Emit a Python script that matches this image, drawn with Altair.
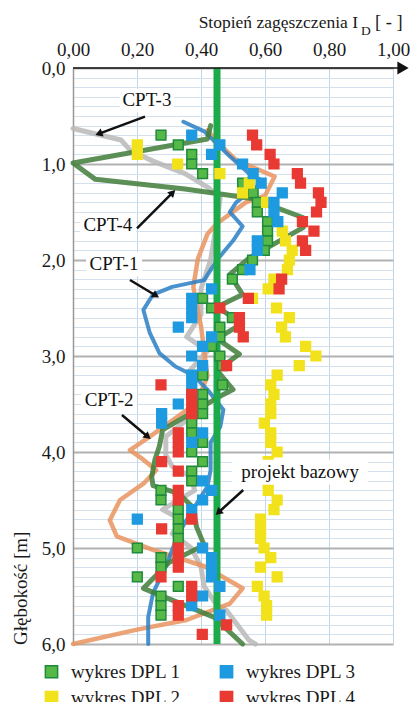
import math
import altair as alt
import pandas as pd

FONT = "Liberation Serif"
W, H = 320, 576
PX_PER_M = H / 6.0

# ---------------- data ----------------
x_ticks = [0.0, 0.2, 0.4, 0.6, 0.8, 1.0]
y_ticks = [round(i * 0.1, 1) for i in range(61)]
base_value = [0.45]

dpl1_depth = [0.7, 0.8, 0.9, 1.0, 1.1, 1.2, 1.3, 1.4, 1.5, 1.6, 1.7, 1.8, 1.9, 2.0, 2.1, 2.2,
              2.4, 2.5, 2.6, 2.7, 2.8, 2.9, 3.0, 3.1, 3.2, 3.3, 3.4, 3.5, 3.6, 3.7, 3.8, 3.9,
              4.0, 4.1, 4.2, 4.3, 4.4, 4.5, 4.6, 4.7, 4.8, 4.9, 5.0, 5.1, 5.2, 5.3, 5.4, 5.5, 5.6, 5.7]
dpl1_value = [0.275, 0.329, 0.371, 0.371, 0.405, 0.53, 0.563, 0.576, 0.576, 0.608, 0.608, 0.608, 0.598, 0.561, 0.53, 0.498,
              0.405, 0.433, 0.498, 0.459, 0.459, 0.433, 0.459, 0.467, 0.405, 0.467, 0.405, 0.405, 0.405, 0.371, 0.371, 0.405,
              0.371, 0.405, 0.371, 0.371, 0.275, 0.275, 0.329, 0.329, 0.329, 0.329, 0.201, 0.275, 0.275, 0.201, 0.329, 0.275, 0.275, 0.275]

dpl2_depth = [0.8, 0.9, 1.0, 1.1, 1.2, 1.3, 1.4, 1.7, 1.8, 1.9, 2.0, 2.1, 2.2, 2.3, 2.4, 2.5, 2.6, 2.7, 2.8, 2.9,
              3.0, 3.1, 3.2, 3.3, 3.4, 3.5, 3.6, 3.7, 3.8, 3.9, 4.0, 4.1, 4.2, 4.3, 4.4, 4.5, 4.6, 4.7, 4.8, 4.9,
              5.0, 5.1, 5.2, 5.3, 5.4, 5.5, 5.6, 5.7]
dpl2_value = [0.201, 0.201, 0.327, 0.459, 0.551, 0.53, 0.605, 0.654, 0.664, 0.685, 0.676, 0.67, 0.628, 0.61, 0.561, 0.636, 0.676, 0.652, 0.664, 0.727,
              0.759, 0.707, 0.638, 0.618, 0.628, 0.618, 0.618, 0.598, 0.618, 0.618, 0.638, 0.61, 0.62, 0.61, 0.61, 0.638, 0.628, 0.586, 0.586, 0.586,
              0.597, 0.618, 0.586, 0.638, 0.576, 0.597, 0.605, 0.605]

dpl3_depth = [0.7, 0.8, 0.9, 1.0, 1.1, 1.2, 1.3, 1.4, 1.5, 1.6, 1.8, 1.9, 2.1,
              2.3, 2.4, 2.5, 2.6, 2.7, 2.8, 2.9, 3.0, 3.1, 3.2, 3.3, 3.4, 3.5, 3.6, 3.7, 3.8, 3.9,
              4.3, 4.4, 4.5, 4.6, 4.7, 5.0, 5.1, 5.2, 5.3, 5.4, 5.5, 5.6, 5.7]
dpl3_value = [0.371, 0.459, 0.433, 0.53, 0.563, 0.588, 0.654, 0.628, 0.628, 0.64, 0.576, 0.576, 0.553,
              0.433, 0.371, 0.371, 0.371, 0.329, 0.433, 0.405, 0.371, 0.405, 0.371, 0.371, 0.371, 0.329, 0.277, 0.277, 0.405, 0.371,
              0.405, 0.433, 0.405, 0.371, 0.201, 0.405, 0.433, 0.433, 0.433, 0.459, 0.405, 0.371, 0.459]

dpl4_depth = [0.7, 0.8, 0.9, 1.0, 1.1, 1.2, 1.3, 1.4, 1.5, 1.6, 1.7, 1.8, 1.9,
              2.2, 2.3, 2.4, 2.5, 2.6, 2.7, 2.8, 3.1, 3.3, 3.4, 3.5, 3.6,
              3.8, 3.9, 4.0, 4.1, 4.2, 4.4, 4.5, 4.7, 4.8,
              5.0, 5.1, 5.2, 5.3, 5.4, 5.5, 5.6, 5.7, 5.8, 5.9]
dpl4_value = [0.561, 0.574, 0.616, 0.628, 0.701, 0.711, 0.767, 0.775, 0.761, 0.717, 0.753, 0.717, 0.727,
              0.652, 0.644, 0.548, 0.459, 0.52, 0.52, 0.532, 0.48, 0.275, 0.371, 0.371, 0.371,
              0.329, 0.329, 0.329, 0.277, 0.329, 0.329, 0.329, 0.371, 0.277,
              0.329, 0.329, 0.329, 0.275, 0.371, 0.371, 0.329, 0.329, 0.48, 0.404]

cpt1_value = [0.345, 0.41, 0.49, 0.55, 0.595, 0.51, 0.49, 0.53, 0.50, 0.47, 0.45, 0.41, 0.31, 0.25, 0.22, 0.24,
              0.27, 0.32, 0.375, 0.42, 0.47, 0.46, 0.43, 0.43, 0.42, 0.38, 0.33, 0.29, 0.25, 0.235, 0.235]
cpt1_depth = [0.56, 0.66, 0.92, 1.10, 1.18, 1.40, 1.50, 1.65, 1.80, 1.92, 2.0, 2.21, 2.28, 2.36, 2.52, 2.76,
              2.97, 3.11, 3.20, 3.35, 3.56, 3.74, 3.90, 4.19, 4.36, 4.57, 4.85, 5.19, 5.47, 5.72, 6.0]

cpt2_value = [0.42, 0.46, 0.51, 0.63, 0.60, 0.54, 0.45, 0.42, 0.39, 0.376, 0.40, 0.42, 0.386, 0.24, 0.178, 0.22,
              0.26, 0.22, 0.147, 0.115, 0.137, 0.25, 0.41, 0.53, 0.49, 0.355, 0.20, 0.0]
cpt2_depth = [0.65, 0.80, 0.96, 1.13, 1.33, 1.40, 1.62, 1.73, 1.99, 2.28, 2.69, 3.21, 3.49, 3.84, 3.98, 4.08,
              4.19, 4.33, 4.50, 4.71, 4.88, 5.02, 5.19, 5.42, 5.58, 5.75, 5.85, 6.0]

cpt3_value = [0.0, 0.15, 0.18, 0.25, 0.35, 0.42, 0.46, 0.45, 0.43, 0.40, 0.40, 0.355, 0.42, 0.36, 0.38, 0.40,
              0.29, 0.29, 0.31, 0.37, 0.38, 0.28, 0.34, 0.31, 0.37, 0.40, 0.41, 0.45, 0.48, 0.55, 0.57]
cpt3_depth = [0.63, 0.75, 0.86, 0.97, 1.10, 1.24, 1.35, 1.60, 2.0, 2.3, 2.57, 2.80, 2.95, 3.17, 3.35, 3.55,
              3.84, 4.03, 4.15, 4.26, 4.40, 4.60, 4.71, 4.85, 5.0, 5.2, 5.4, 5.6, 5.65, 5.96, 6.0]

cpt4_value = [0.43, 0.42, 0.0, 0.07, 0.35, 0.56, 0.72, 0.72, 0.55, 0.49, 0.53, 0.45, 0.53, 0.45, 0.52, 0.45,
              0.50, 0.47, 0.28, 0.27, 0.256, 0.246, 0.25, 0.33, 0.376, 0.386, 0.41, 0.30, 0.22, 0.44, 0.53]
cpt4_depth = [0.60, 0.74, 0.99, 1.16, 1.26, 1.36, 1.56, 1.66, 1.98, 2.15, 2.36, 2.49, 2.66, 2.82, 2.98, 3.15,
              3.35, 3.40, 3.77, 3.94, 4.08, 4.26, 4.35, 4.43, 4.58, 4.78, 4.97, 5.15, 5.42, 5.72, 6.0]

dpl_names = ["wykres DPL 1", "wykres DPL 2", "wykres DPL 3", "wykres DPL 4"]
dpl_fill = ["#56b947", "#f2e21c", "#1e9ae0", "#e83a33"]
dpl_stroke = ["#1f8a3c", "#f2e21c", "#1e9ae0", "#e83a33"]

ann_label = ["CPT-3", "CPT-4", "CPT-1", "CPT-2", "projekt bazowy"]
ann_tx = [0.231, 0.109, 0.128, 0.113, 0.71]
ann_ty = [0.333, 1.635, 2.04, 3.458, 4.21]
ann_bx1 = [0.147, 0.022, 0.041, 0.025, 0.497]
ann_bx2 = [0.316, 0.197, 0.216, 0.200, 0.922]
ann_by1 = [0.22, 1.51, 1.92, 3.33, 4.08]
ann_by2 = [0.46, 1.76, 2.17, 3.58, 4.34]
arr_x1 = [0.225, 0.200, 0.178, 0.153, 0.532]
arr_y1 = [0.507, 1.670, 2.208, 3.615, 4.396]
arr_x2 = [0.084, 0.309, 0.256, 0.231, 0.457]
arr_y2 = [0.681, 1.306, 2.365, 3.833, 4.622]

title_parts = ["Stopień zagęszczenia I", "D", "[ - ]"]
y_title = ["Głębokość [m]"]

# ---------------- tables ----------------
pts = pd.concat([
    pd.DataFrame({"v": dpl1_value, "d": dpl1_depth, "series": "wykres DPL 1"}),
    pd.DataFrame({"v": dpl2_value, "d": dpl2_depth, "series": "wykres DPL 2"}),
    pd.DataFrame({"v": dpl3_value, "d": dpl3_depth, "series": "wykres DPL 3"}),
    pd.DataFrame({"v": dpl4_value, "d": dpl4_depth, "series": "wykres DPL 4"}),
], ignore_index=True)

ann = pd.DataFrame({"label": ann_label, "tx": ann_tx, "ty": ann_ty,
                    "bx1": ann_bx1, "bx2": ann_bx2, "by1": ann_by1, "by2": ann_by2,
                    "ax1": arr_x1, "ay1": arr_y1, "ax2": arr_x2, "ay2": arr_y2})
# arrowhead rotation (clockwise from "up", screen y grows with depth)
ann["ang"] = [
    (math.degrees(math.atan2((x2 - x1) * W, -(y2 - y1) * PX_PER_M)) + 360) % 360
    for x1, y1, x2, y2 in zip(arr_x1, arr_y1, arr_x2, arr_y2)
]

xs = alt.Scale(domain=[0, 1], nice=False, zero=False)
ys = alt.Scale(domain=[0, 6], reverse=True, nice=False, zero=False)

is_int = "abs(datum.value - round(datum.value)) < 0.001"
xaxis = alt.Axis(orient="top", values=x_ticks, title=None,
                 labelExpr="replace(format(datum.value, '.2f'), '.', ',')",
                 labelFont=FONT, labelFontSize=19, labelColor="#1a1a1a", labelPadding=9,
                 grid=True, gridColor="#c4d4e4", gridWidth=1, domain=False, ticks=False,
                 labelOverlap=False, labelFlush=False)
yaxis = alt.Axis(values=y_ticks, title=None,
                 labelExpr=f"{is_int} ? replace(format(datum.value, '.1f'), '.', ',') : ''",
                 labelFont=FONT, labelFontSize=19, labelColor="#1a1a1a", labelPadding=8,
                 grid=True,
                 gridColor={"condition": {"test": is_int, "value": "#b2b2b2"}, "value": "#d3e1ef"},
                 gridWidth={"condition": {"test": is_int, "value": 2}, "value": 1},
                 domainColor="#999999", domainWidth=1.5, ticks=False, labelOverlap=False,
                 labelFlush=False)


def X(f):
    return alt.X(f"{f}:Q", scale=xs, axis=xaxis)


def Y(f):
    return alt.Y(f"{f}:Q", scale=ys, axis=yaxis)


line_specs = [
    (cpt3_value, cpt3_depth, "#b8b8b8", 5),
    (cpt2_value, cpt2_depth, "#e9945f", 4.5),
    (cpt1_value, cpt1_depth, "#2a7fc4", 4),
    (cpt4_value, cpt4_depth, "#3f7c38", 5),
]
line_layers = []
for vals, deps, col, sw in line_specs:
    df = pd.DataFrame({"v": vals, "d": deps, "i": list(range(len(vals)))})
    line_layers.append(
        alt.Chart(df).mark_line(color=col, strokeWidth=sw, opacity=0.85, strokeCap="round", strokeJoin="round")
        .encode(x=X("v"), y=Y("d"), order="i:Q")
    )

base_layer = alt.Chart(pd.DataFrame({"v": base_value})).mark_rule(color="#1daa4b", strokeWidth=7).encode(
    x=X("v"), y=alt.value(0), y2=alt.value(H))

legend = alt.Legend(title=None, orient="none", legendX=-31, legendY=594, columns=2, direction="vertical",
                    symbolType="square", symbolSize=150, symbolStrokeWidth=1.5,
                    labelFont=FONT, labelFontSize=19, labelColor="#1a1a1a", labelOffset=10,
                    columnPadding=36, rowPadding=6, padding=0, offset=0)
points = alt.Chart(pts).mark_point(shape="square", filled=True, size=95, opacity=1, strokeWidth=1.5).encode(
    x=X("v"), y=Y("d"),
    fill=alt.Fill("series:N", scale=alt.Scale(domain=dpl_names, range=dpl_fill), legend=legend),
    stroke=alt.Stroke("series:N", scale=alt.Scale(domain=dpl_names, range=dpl_stroke), legend=legend),
)

boxes = alt.Chart(ann).mark_rect(fill="white").encode(x=X("bx1"), x2="bx2", y=Y("by1"), y2="by2")
labels = alt.Chart(ann).mark_text(font=FONT, fontSize=19, color="#111111").encode(
    x=X("tx"), y=Y("ty"), text="label:N")
arrows = alt.Chart(ann).mark_rule(color="#111111", strokeWidth=2.5).encode(
    x=X("ax1"), y=Y("ay1"), x2="ax2", y2="ay2")
heads = alt.Chart(ann).mark_point(shape="triangle", filled=True, size=70, color="#111111", opacity=1).encode(
    x=X("ax2"), y=Y("ay2"), angle=alt.Angle("ang:Q", scale=None))

# top axis line with arrow
one = pd.DataFrame({"k": [0]})
top_line = alt.Chart(one).mark_rule(color="#111111", strokeWidth=1.6).encode(
    x=alt.value(0), x2=alt.value(326), y=alt.value(0))
top_head = alt.Chart(one).mark_point(shape="triangle-right", filled=True, size=170, color="#111111", opacity=1).encode(
    x=alt.value(330), y=alt.value(0))

tdf = pd.DataFrame({"a": [title_parts[0]], "b": [title_parts[1]], "c": [title_parts[2]], "y": y_title})
t1 = alt.Chart(tdf).mark_text(font=FONT, fontSize=17.5, align="right", baseline="alphabetic", color="#1a1a1a").encode(
    x=alt.value(285), y=alt.value(-40), text="a:N")
t2 = alt.Chart(tdf).mark_text(font=FONT, fontSize=13.5, align="left", baseline="alphabetic", color="#1a1a1a").encode(
    x=alt.value(288), y=alt.value(-33), text="b:N")
t3 = alt.Chart(tdf).mark_text(font=FONT, fontSize=18.5, align="left", baseline="alphabetic", color="#1a1a1a").encode(
    x=alt.value(302), y=alt.value(-40), text="c:N")
ytitle = alt.Chart(tdf).mark_text(font=FONT, fontSize=19, align="left", baseline="middle", angle=270, color="#1a1a1a").encode(
    x=alt.value(-52), y=alt.value(H + 1), text="y:N")

chart = alt.layer(
    *line_layers, base_layer, points, boxes, arrows, heads, labels,
    top_line, top_head, t1, t2, t3, ytitle
).properties(
    width=W, height=H,
    padding={"left": 65, "top": 60, "right": 18, "bottom": 58},
    autosize=alt.AutoSizeParams(type="none"),
    background="white",
).configure_view(strokeWidth=0)

chart.save("out.html", embed_options={"renderer": "svg", "actions": False})
